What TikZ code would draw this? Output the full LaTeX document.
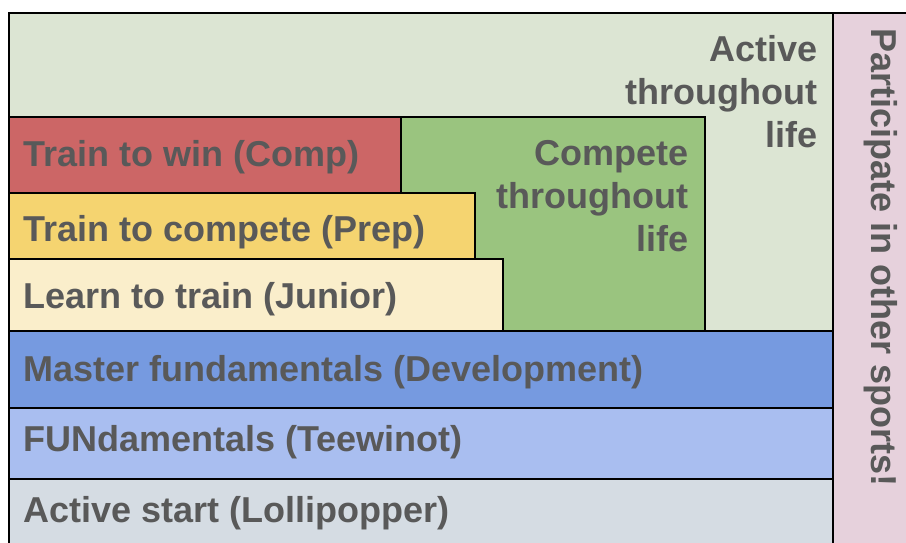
\documentclass[tikz,border=0pt]{standalone}
\usepackage{fontspec}
\setmainfont{Liberation Sans}
\usetikzlibrary{positioning}

\definecolor{activebg}{HTML}{DCE5D3}
\definecolor{otherbg}{HTML}{E6D1DC}
\definecolor{winred}{HTML}{CC6666}
\definecolor{prepyellow}{HTML}{F5D470}
\definecolor{juniorcream}{HTML}{FAEECB}
\definecolor{competegreen}{HTML}{9AC47F}
\definecolor{devblue}{HTML}{769AE0}
\definecolor{teeblue}{HTML}{A9BEF0}
\definecolor{lollygray}{HTML}{D5DCE3}
\definecolor{labelgray}{HTML}{595959}

\tikzset{
  band/.style={draw=black, line width=2pt},
  stage/.style={font=\bfseries\fontsize{36}{43}\selectfont, text=labelgray, inner sep=0pt}
}

\begin{document}
\begin{tikzpicture}[x=1pt, y=-1pt]
	\useasboundingbox (0,0) rectangle (906,542);
	\clip (0,0) rectangle (906,542);
	% background columns
	\draw[band, fill=activebg] (9,12.5) rectangle (833,331);
	\draw[band, fill=otherbg] (833,12.5) rectangle (925,560);
	% upper stages
	\draw[band, fill=competegreen] (401,117) rectangle (705,331);
	\draw[band, fill=winred] (9,117) rectangle (401,193);
	\draw[band, fill=prepyellow] (9,193) rectangle (475,259);
	\draw[band, fill=juniorcream] (9,259) rectangle (503,331);
	% base stages
	\draw[band, fill=devblue] (9,331) rectangle (833,408);
	\draw[band, fill=teeblue] (9,408) rectangle (833,479);
	\draw[band, fill=lollygray] (9,479) rectangle (833,560);

	\node[stage, anchor=base west] (win) at (23,166) {Train to win (Comp)};
	\node[stage, anchor=base west] (prep) at (23,241) {Train to compete (Prep)};
	\node[stage, anchor=base west] (junior) at (23,308) {Learn to train (Junior)};
	\node[stage, anchor=base west] (dev) at (23,381) {Master fundamentals (Development)};
	\node[stage, anchor=base west] (tee) at (23,451) {FUNdamentals (Teewinot)};
	\node[stage, anchor=base west] (lolly) at (23,522) {Active start (Lollipopper)};
	\node[stage, anchor=north east, align=right] (compete) at (689,140) {Compete\\throughout\\life};
	\node[stage, anchor=north east, align=right] (active) at (818,35) {Active\\throughout\\life};
	\node[stage, anchor=base west, rotate=-90] (other) at (871,28) {Participate in other sports!};
\end{tikzpicture}
\end{document}
